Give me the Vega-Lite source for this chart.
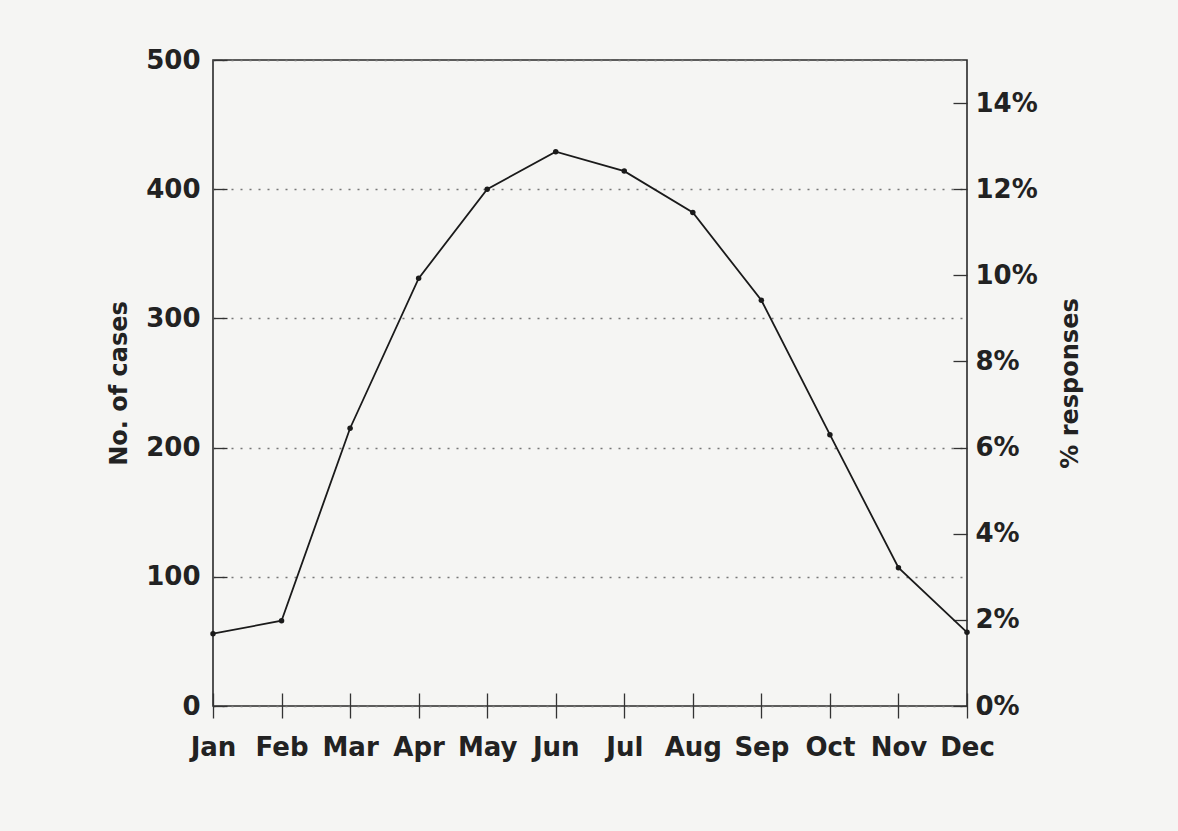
{
  "$schema": "https://vega.github.io/schema/vega-lite/v6.json",
  "autosize": "none",
  "padding": {"left": 213, "top": 60, "right": 211, "bottom": 125},
  "width": 754,
  "height": 646,
  "background": "#f5f5f3",
  "config": {
    "font": "DejaVu Sans",
    "view": {"stroke": "#2a2a2a", "strokeWidth": 1.6},
    "axis": {
      "labelFont": "DejaVu Sans",
      "labelFontWeight": "bold",
      "labelFontSize": 26,
      "labelColor": "#222222",
      "titleFont": "DejaVu Sans",
      "titleFontWeight": "bold",
      "titleFontSize": 24,
      "titleColor": "#222222",
      "tickColor": "#333333",
      "tickWidth": 1.3,
      "domainColor": "#333333"
    }
  },
  "data": {
    "values": [
      {"month": "Jan", "cases": 56, "pct": 0.0168},
      {"month": "Feb", "cases": 66, "pct": 0.0198},
      {"month": "Mar", "cases": 215, "pct": 0.0645},
      {"month": "Apr", "cases": 331, "pct": 0.0993},
      {"month": "May", "cases": 400, "pct": 0.12},
      {"month": "Jun", "cases": 429, "pct": 0.1287},
      {"month": "Jul", "cases": 414, "pct": 0.1242},
      {"month": "Aug", "cases": 382, "pct": 0.1146},
      {"month": "Sep", "cases": 314, "pct": 0.0942},
      {"month": "Oct", "cases": 210, "pct": 0.063},
      {"month": "Nov", "cases": 107, "pct": 0.0321},
      {"month": "Dec", "cases": 57, "pct": 0.0171}
    ]
  },
  "encoding": {
    "x": {
      "field": "month",
      "type": "ordinal",
      "sort": null,
      "scale": {"type": "point", "padding": 0},
      "axis": {
        "title": null,
        "labelAngle": 0,
        "offset": -13,
        "tickSize": 25,
        "domain": false,
        "labelPadding": 16,
        "grid": false
      }
    }
  },
  "layer": [
    {
      "mark": {
        "type": "line",
        "color": "#1a1a1a",
        "strokeWidth": 1.8,
        "point": {"filled": true, "size": 30, "color": "#1a1a1a"}
      },
      "encoding": {
        "y": {
          "field": "cases",
          "type": "quantitative",
          "scale": {"domain": [0, 500]},
          "axis": {
            "title": "No. of cases",
            "values": [0, 100, 200, 300, 400, 500],
            "tickSize": -14,
            "labelPadding": 27,
            "domain": false,
            "grid": true,
            "gridDash": [2, 7],
            "gridColor": "#777777",
            "gridWidth": 1.5,
            "titlePadding": 14
          }
        }
      }
    },
    {
      "mark": {"type": "point", "opacity": 0},
      "encoding": {
        "y": {
          "field": "pct",
          "type": "quantitative",
          "scale": {"domain": [0, 0.15]},
          "axis": {
            "orient": "right",
            "title": "% responses",
            "format": ".0%",
            "values": [0, 0.02, 0.04, 0.06, 0.08, 0.1, 0.12, 0.14],
            "tickSize": -14,
            "labelPadding": 22,
            "domain": false,
            "grid": false,
            "titleAngle": 270,
            "titlePadding": 45
          }
        }
      }
    }
  ],
  "resolve": {"scale": {"y": "independent"}}
}
